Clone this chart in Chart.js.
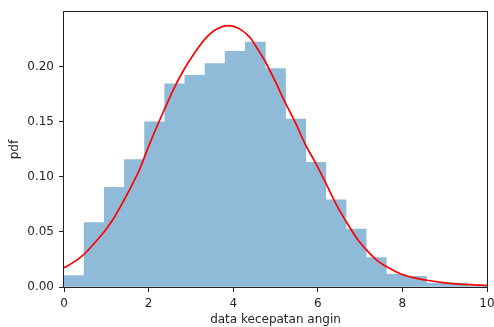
<!DOCTYPE html>
<html>
    <head>
        <title>pdf kecepatan angin</title>
        <script src="https://cdn.jsdelivr.net/npm/chart.js@4"></script>
        <style>
            body { margin:0; background:#fff; }
        </style>
    </head>
    <body>
        <canvas id="myChart" width="494" height="327"></canvas>
        <script>
        // histogram: 21 bins of equal width from 0 to 10
        let binLo = 0;
        let binHi = 10;
        let tinggiBin = [0.0103, 0.0585, 0.0905, 0.1156, 0.150, 0.1845, 0.1922, 0.2029, 0.2139, 0.2223, 0.1982,
                         0.1524, 0.1133, 0.0791, 0.0527, 0.0266, 0.0118, 0.0097, 0.0035, 0.0035, 0.0006];
        // red fitted curve
        let kurvaX = [0, 0.2, 0.45, 0.67, 0.95, 1.15, 1.42, 1.66, 1.77, 2.04, 2.36, 2.59, 2.83, 3.07, 3.34, 3.62,
                      3.89, 4.17, 4.41, 4.52, 4.76, 5.0, 5.23, 5.47, 5.7, 5.94, 6.14, 6.45, 6.68, 6.93, 7.16, 7.40,
                      7.64, 7.95, 8.26, 8.58, 9.05, 9.55, 10.0];
        let kurvaY = [0.0175, 0.0219, 0.0289, 0.0377, 0.0502, 0.0608, 0.079, 0.0966, 0.1053, 0.1315, 0.160, 0.1795,
                      0.197, 0.2115, 0.2255, 0.2345, 0.2374, 0.2339, 0.226, 0.2195, 0.2045, 0.1862, 0.1674, 0.1493,
                      0.1298, 0.1131, 0.0981, 0.0739, 0.0588, 0.0438, 0.0332, 0.0242, 0.0181, 0.0121, 0.0085, 0.0061,
                      0.0036, 0.0022, 0.0015];
        let xTicks = [0, 2, 4, 6, 8, 10];
        let yTicks = [0, 0.05, 0.10, 0.15, 0.20];

        var lebar = (binHi - binLo) / tinggiBin.length;
        var batang = tinggiBin.map((h, i) => ({x: binLo + (i + 0.5) * lebar, y: h}));
        var kurva = kurvaX.map((x, i) => ({x: x, y: kurvaY[i]}));

        var warnaTeks = '#262626';
        var font = {family: 'DejaVu Sans', size: 12};

        // matplotlib style box round the axes
        var ramka = {
            id: 'ramka',
            afterDatasetsDraw(chart) {
                var a = chart.chartArea;
                var ctx = chart.ctx;
                ctx.save();
                ctx.strokeStyle = '#222';
                ctx.lineWidth = 1;
                ctx.strokeRect(Math.round(a.left) - 0.5, Math.round(a.top) - 0.5,
                    Math.round(a.right - a.left) + 1, Math.round(a.bottom - a.top) + 1);
                ctx.restore();
            }
        };

        var ctx = document.getElementById('myChart').getContext('2d');
        var myChart = new Chart(ctx, {
            data: {
                datasets: [{
                    type: 'line',
                    data: kurva,
                    borderColor: '#ff0000',
                    borderWidth: 1.7,
                    pointRadius: 0,
                    cubicInterpolationMode: 'monotone',
                    fill: false,
                    order: 1
                }, {
                    type: 'bar',
                    data: batang,
                    backgroundColor: '#8fbbd9',
                    borderWidth: 0,
                    barPercentage: 1,
                    categoryPercentage: 1,
                    order: 2
                }]
            },
            options: {
                responsive: false,
                animation: false,
                layout: {padding: {top: 11, right: 7, left: 0, bottom: 0}},
                plugins: {legend: {display: false}, tooltip: {enabled: false}},
                scales: {
                    x: {
                        type: 'linear',
                        offset: false,
                        min: 0,
                        max: 10,
                        afterBuildTicks: s => { s.ticks = xTicks.map(v => ({value: v})); },
                        // let "10" hang over the edge like in matplotlib
                        afterFit: s => { s.height = 40; s.paddingLeft = 0; s.paddingRight = 0; },
                        grid: {display: true, offset: false, drawOnChartArea: false, drawTicks: true, tickLength: 5, color: '#222'},
                        border: {display: false},
                        ticks: {color: warnaTeks, font: font, padding: 5, maxRotation: 0,
                                callback: v => String(v)},
                        title: {display: true, text: 'data kecepatan angin', color: warnaTeks, font: font,
                                padding: {top: 0, bottom: 0}}
                    },
                    y: {
                        min: 0,
                        max: 0.2495,
                        afterBuildTicks: s => { s.ticks = yTicks.map(v => ({value: v})); },
                        afterFit: s => { s.width = 64; },
                        grid: {display: true, drawOnChartArea: false, drawTicks: true, tickLength: 5, color: '#222'},
                        border: {display: false},
                        ticks: {color: warnaTeks, font: font, padding: 5,
                                callback: v => v.toFixed(2)},
                        title: {display: true, text: 'pdf', color: warnaTeks, font: font,
                                padding: {top: 8, bottom: 0}}
                    }
                }
            },
            plugins: [ramka]
        });
        </script>
    </body>
</html>
